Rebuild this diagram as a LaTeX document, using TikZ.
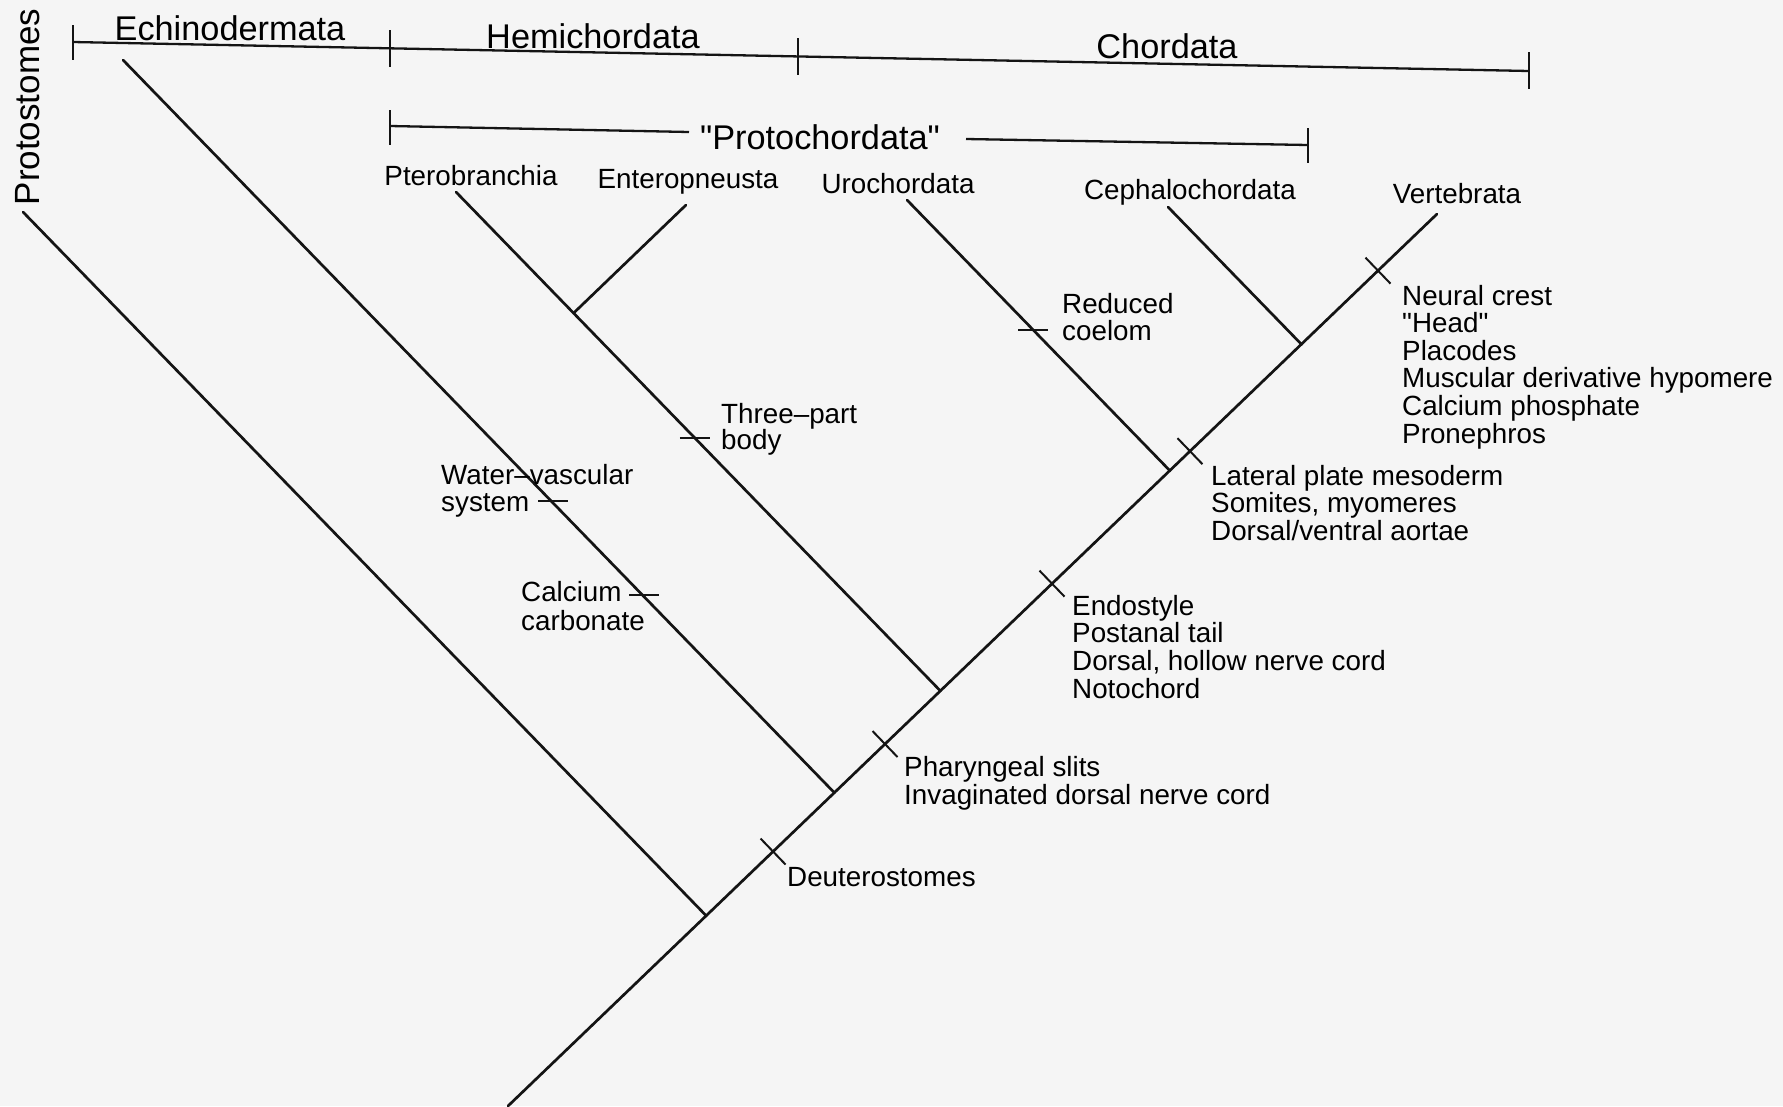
\documentclass[tikz,border=0pt]{standalone}
\usepackage{fontspec}
\setmainfont{Liberation Sans}
\newfontfamily\lsans{Liberation Sans}
\usetikzlibrary{calc}
\begin{document}
\begin{tikzpicture}[x=1pt,y=-1pt,
  branch/.style={line width=2.7pt, line cap=round, black!92},
  bracketline/.style={line width=2.3pt, black!92},
  tickmark/.style={line width=2pt, black!92},
  bigl/.style={font=\lsans\fontsize{34.3}{40}\selectfont, inner sep=0pt, anchor=base},
  taxon/.style={font=\lsans\fontsize{27.8}{28}\selectfont, inner sep=0pt, anchor=base},
  trait/.style={font=\lsans\fontsize{27.8}{28}\selectfont, inner sep=0pt, anchor=base west},
]
\fill[black!4] (0,0) rectangle (1783,1106);
\useasboundingbox (0,0) rectangle (1783,1106);

% ---------- top group labels ----------
\node[font=\lsans\fontsize{35}{40}\selectfont, rotate=90, inner sep=0pt] (prot) at (28,107) {Protostomes};
\node[bigl] (echi) at (230,40) {Echinodermata};
\node[bigl] (hemi) at (593,48) {Hemichordata};
\node[bigl] (chor) at (1167,58) {Chordata};
\node[bigl] (prch) at (820,149) {"Protochordata"};

% top bracket line
\coordinate (tl) at (73,42);
\coordinate (t1) at (390,48.3);
\coordinate (t2) at (798,56.4);
\coordinate (tr) at (1529,71);
\draw[bracketline] (tl) -- (tr);
\draw[bracketline] (tl) ++(0,-17) -- ++(0,35);
\draw[bracketline] (t1) ++(0,-18) -- ++(0,37);
\draw[bracketline] (t2) ++(0,-18) -- ++(0,37);
\draw[bracketline] (tr) ++(0,-19) -- ++(0,37);

% protochordata bracket
\coordinate (pl) at (390,126);
\coordinate (pm1) at (689,132);
\coordinate (pm2) at (966,139);
\coordinate (pr) at (1308,145);
\draw[bracketline] (pl) -- (pm1);
\draw[bracketline] (pm2) -- (pr);
\draw[bracketline] (pl) ++(0,-16) -- ++(0,35);
\draw[bracketline] (pr) ++(0,-17) -- ++(0,35);

% ---------- taxa ----------
\node[taxon] (pter) at (471,185) {Pterobranchia};
\node[taxon] (ente) at (688,188) {Enteropneusta};
\node[taxon] (uroc) at (898,193) {Urochordata};
\node[taxon] (ceph) at (1190,199) {Cephalochordata};
\node[taxon] (vert) at (1457,203) {Vertebrata};

% ---------- tree ----------
\coordinate (root) at (508,1106);
\coordinate (tipV) at (1437,214);
\coordinate (tipP) at (23,212);   \coordinate (dP) at (123,315);
\coordinate (tipE) at (123,60);   \coordinate (dE) at (223,163);
\coordinate (tipPt) at (456,192); \coordinate (dPt) at (556,295);
\coordinate (tipEn) at (686,205); \coordinate (dEn) at (586,301.02);
\coordinate (tipU) at (907,200);  \coordinate (dU) at (1007,303);
\coordinate (tipC) at (1168,207); \coordinate (dC) at (1268,310);

\coordinate (jP) at (intersection of tipP--dP and root--tipV);
\coordinate (jE) at (intersection of tipE--dE and root--tipV);
\coordinate (jH) at (intersection of tipPt--dPt and root--tipV);
\coordinate (jU) at (intersection of tipU--dU and root--tipV);
\coordinate (jC) at (intersection of tipC--dC and root--tipV);
\coordinate (jEn) at (intersection of tipEn--dEn and tipPt--dPt);

\draw[branch] (root) -- (tipV);
\draw[branch] (tipP) -- (jP);
\draw[branch] (tipE) -- (jE);
\draw[branch] (tipPt) -- (jH);
\draw[branch] (tipEn) -- (jEn);
\draw[branch] (tipU) -- (jU);
\draw[branch] (tipC) -- (jC);

% ---------- crosses on the main stem ----------
\coordinate (cN) at ($(root)!0.9365!(tipV)$);
\coordinate (cL) at ($(root)!0.7341!(tipV)$);
\coordinate (cEn) at ($(root)!0.5856!(tipV)$);
\coordinate (cPh) at ($(root)!0.4058!(tipV)$);
\coordinate (cD) at ($(root)!0.2853!(tipV)$);
\foreach \c in {cN,cL,cEn,cPh,cD}
  \draw[tickmark] (\c) ++(-12.5,-13) -- ++(25,26);

% ---------- ticks on descending branches ----------
\coordinate (tCal) at (644.4,595);
\coordinate (tWat) at (553,501);
\coordinate (tThr) at (694.8,438);
\coordinate (tRed) at (1033.2,330);
\foreach \c in {tCal,tWat,tThr,tRed}
  \draw[tickmark] (\c) ++(-15,0) -- ++(30,0);

% ---------- character labels ----------
\node[trait] (red1) at (1062,313) {Reduced};
\node[trait] (red2) at (1062,340) {coelom};

\node[trait] (vt1) at (1402,305) {Neural crest};
\node[trait] (vt2) at (1402,332.6) {"Head"};
\node[trait] (vt3) at (1402,360.2) {Placodes};
\node[trait] (vt4) at (1402,387.8) {Muscular derivative hypomere};
\node[trait] (vt5) at (1402,415.4) {Calcium phosphate};
\node[trait] (vt6) at (1402,443) {Pronephros};

\node[trait] (lp1) at (1211,485) {Lateral plate mesoderm};
\node[trait] (lp2) at (1211,512.5) {Somites, myomeres};
\node[trait] (lp3) at (1211,540) {Dorsal/ventral aortae};

\node[trait] (en1) at (1072,615) {Endostyle};
\node[trait] (en2) at (1072,642.7) {Postanal tail};
\node[trait] (en3) at (1072,670.3) {Dorsal, hollow nerve cord};
\node[trait] (en4) at (1072,698) {Notochord};

\node[trait] (ph1) at (904,776) {Pharyngeal slits};
\node[trait] (ph2) at (904,804) {Invaginated dorsal nerve cord};

\node[trait] (deu) at (787,886) {Deuterostomes};

\node[trait] (th1) at (721,423) {Three–part};
\node[trait] (th2) at (721,449) {body};

\node[trait] (wv1) at (441,484) {Water–vascular};
\node[trait] (wv2) at (441,511) {system};

\node[trait] (ca1) at (521,601) {Calcium};
\node[trait] (ca2) at (521,630) {carbonate};
\end{tikzpicture}
\end{document}
